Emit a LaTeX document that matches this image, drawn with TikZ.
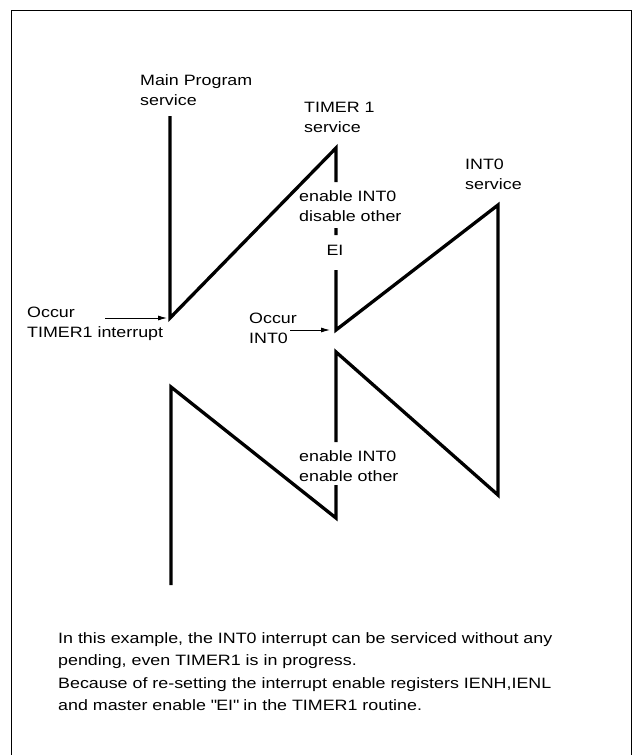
\documentclass[tikz,border=0pt]{standalone}
\usepackage{fontspec}
\setmainfont{Liberation Sans}[FakeStretch=1.19]
\usetikzlibrary{arrows.meta}
\newcommand{\lblfont}{\fontsize{15}{20}\selectfont}
\newcommand{\notefont}{\fontsize{15}{22.3}\selectfont}
\tikzset{
	flow/.style={line width=3.3pt},
	lbl/.style={inner sep=0pt, anchor=west, align=left},
	trig/.style={->, line width=0.9pt},
}
\begin{document}
\begin{tikzpicture}[x=1pt, y=-1pt, line join=miter, font=\lblfont, >={Latex[length=9pt,width=5pt]}]
	\useasboundingbox (0,0) rectangle (632,755);
	\draw[line width=1pt] (11,755) -- (11,10) -- (631,10) -- (631,755);
	% time line of the program flow
	\path (170,116) coordinate (M0)
		(170,318) coordinate (M1)
		(336,148) coordinate (T0) (336,182) coordinate (T1)
		(336,228) coordinate (T2) (336,235) coordinate (T3)
		(336,270) coordinate (T4) (336,330) coordinate (T5)
		(498,205) coordinate (I0) (498,495) coordinate (I1)
		(336,352) coordinate (R0) (336,442) coordinate (R1)
		(336,485) coordinate (R2) (336,518) coordinate (R3)
		(171,387) coordinate (B0) (171,585) coordinate (B1);
	\draw[flow] (M0)--(M1)--(T0)--(T1) (T2)--(T3) (T4)--(T5)--(I0)--(I1)--(R0)--(R1)
		(R2)--(R3)--(B0)--(B1);
	% labels
	\node[lbl] (mainlbl) at (140,90) {Main Program\\service};
	\node[lbl] (t1lbl) at (304,117) {TIMER 1\\service};
	\node[lbl] (i0lbl) at (465,174) {INT0\\service};
	\node[lbl] (dislbl) at (299,206) {enable INT0\\disable other};
	\node[inner sep=0pt] (eilbl) at (335,250) {EI};
	\node[lbl] (enlbl) at (299,466) {enable INT0\\enable other};
	\node[lbl] (occt1) at (27,324) {Occur\\TIMER1 interrupt};
	\node[lbl] (occi0) at (249,328) {Occur\\INT0};
	% interrupt requests
	\path (105,318) coordinate (t1src) (290,330) coordinate (i0src);
	\draw[trig, shorten >=3pt] (t1src) -- (M1);
	\draw[trig, shorten >=6pt] (i0src) -- (T5);
	\node[lbl, font=\notefont] (note) at (58,671.5) {In this example, the INT0 interrupt can be serviced without any\\pending, even TIMER1 is in progress.\\Because of re-setting the interrupt enable registers IENH,IENL\\and master enable \textquotedbl EI\textquotedbl{} in the TIMER1 routine.};
\end{tikzpicture}
\end{document}
